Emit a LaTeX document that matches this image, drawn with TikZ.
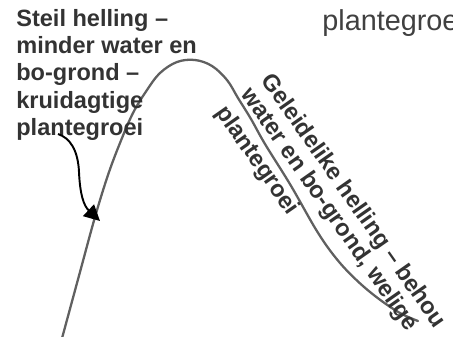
\documentclass[tikz,border=0pt]{standalone}
\usepackage{fontspec}
\setmainfont{Liberation Sans}
\usepackage{xcolor}
\usetikzlibrary{arrows.meta}
\definecolor{hillgray}{HTML}{606060}
\definecolor{labelgray}{HTML}{333333}
\definecolor{cutgray}{HTML}{404040}

\begin{document}
\begin{tikzpicture}[
  x=0.02cm, y=-0.02cm,
  > = {Triangle[length=9pt, width=9pt]},
  hill/.style={draw=hillgray, line width=1.3pt, line cap=round},
  lbl/.style={font=\fontsize{13.4}{15.5}\selectfont\bfseries,
              text=labelgray, inner sep=0pt, align=left},
  pointer/.style={->, line width=1.1pt, black}
]
  \useasboundingbox (0,0) rectangle (453,336);

  % --- hill profile ---
  \draw[hill] plot[smooth, tension=0.6] coordinates {
    (61,342) (80,272) (95,217) (108,175) (120,143) (133,113) (147,90)
    (160,73) (177,62) (195,60) (212,66) (227,80) (238,98) (251,119)
    (265,144) (290.5,185) (317.5,232) (337.5,260) (358,281.5) (379,299)
    (400,313) (418,321)};

  % --- cut-off label, top right ---
  \node[font=\fontsize{16.4}{19}\selectfont, text=cutgray,
        anchor=base west, inner sep=0pt] (toplbl) at (322,30) {plantegroei};

  % --- steep side label and arrow ---
  \node[lbl, anchor=north west] (steil) at (16,9)
    {Steil helling --\\minder water en\\bo-grond --\\kruidagtige\\plantegroei};
  \coordinate (steilstart) at (58,134);
  \coordinate (steilpunt)  at (100,221);
  \draw[pointer] (steilstart) .. controls (70,138) and (78,150) .. (79,172)
                 .. controls (80,195) and (84,206) .. (steilpunt);

  % --- gentle side label, along the slope ---
  \node[lbl, font=\fontsize{13.4}{14}\selectfont\bfseries,
        anchor=north west, rotate=-55] (geleid) at (275,70.2)
    {Geleidelike helling -- behou\\water en bo-grond, welige\\[3.6pt]plantegroei};
\end{tikzpicture}
\end{document}
